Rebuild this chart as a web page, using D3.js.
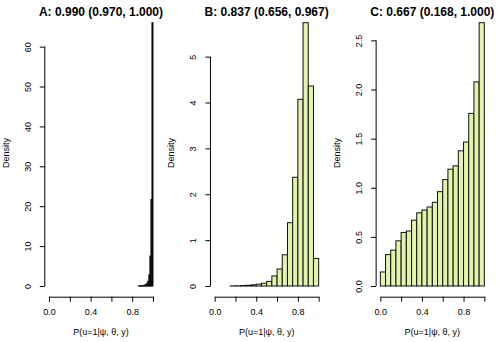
<!DOCTYPE html>
<html>
<head>
  <meta charset="utf-8">
  <script src="https://d3js.org/d3.v7.min.js"></script>
  <style>
    body { margin: 0; background: #fff; }
    text { font-family: "Liberation Sans", Arial, Helvetica, sans-serif; fill: #000; }
  </style>
</head>
<body>
<div id="vis"></div>
<script>
// panel titles
var titles = ["A: 0.990 (0.970, 1.000)", "B: 0.837 (0.656, 0.967)", "C: 0.667 (0.168, 1.000)"];

// histogram bins: left edges, bin widths and densities
var startA = 0.86, widthA = 0.01;
var densA = [0.05, 0.05, 0.05, 0.05, 0.1, 0.15, 0.25, 0.4, 0.7, 1.2, 2.8, 7.5, 21.7, 66.0];

var startB = 0.15, widthB = 0.05;
var densB = [0.003, 0.005, 0.01, 0.015, 0.025, 0.04, 0.06, 0.1, 0.22, 0.37, 0.68, 1.38, 2.37, 4.07, 5.74, 4.36, 0.6];

var startC = 0.0, widthC = 0.05;
var densC = [0.143, 0.32, 0.365, 0.46, 0.545, 0.56, 0.67, 0.745, 0.773, 0.804, 0.852, 0.96,
             1.083, 1.189, 1.223, 1.376, 1.465, 1.757, 2.078, 2.68];

// axis ticks
var xTicks = [0, 0.2, 0.4, 0.6, 0.8, 1.0];
var xTickLabels = ["0.0", "", "0.4", "", "0.8", ""];
var yTicksA = [0, 10, 20, 30, 40, 50, 60];
var yTicksB = [0, 1, 2, 3, 4, 5];
var yTicksC = [0, 0.5, 1.0, 1.5, 2.0, 2.5];

var xLabel = "P(u=1|\u03c8, \u03b8, y)";
var yLabel = "Density";

var W = 497, H = 342;
var panelW = W / 3;

var panels = [
  {title: titles[0], start: startA, bw: widthA, dens: densA, yTicks: yTicksA, fmt: d3.format("d"), fill: "#000"},
  {title: titles[1], start: startB, bw: widthB, dens: densB, yTicks: yTicksB, fmt: d3.format("d"), fill: "#e2f4ac"},
  {title: titles[2], start: startC, bw: widthC, dens: densC, yTicks: yTicksC, fmt: d3.format(".1f"), fill: "#e2f4ac"}
];

var svg = d3.select("#vis").append("svg")
    .attr("width", W)
    .attr("height", H);

panels.forEach(function(p, i) {
  var left = i * panelW;
  var g = svg.append("g").attr("transform", "translate(" + left + ",0)");

  var x = d3.scaleLinear().domain([0, 1]).range([49, 153]);
  var yMax = d3.max(p.dens);
  var y = d3.scaleLinear().domain([0, yMax]).range([286, 22.7]);

  var plotL = x(0) - 4.2, plotR = x(1) + 4.2;

  // bars
  g.selectAll("rect.bar")
    .data(p.dens)
    .enter().append("rect")
      .attr("class", "bar")
      .attr("x", function(d, k) { return x(p.start + k * p.bw); })
      .attr("width", function(d, k) { return x(p.start + (k + 1) * p.bw) - x(p.start + k * p.bw); })
      .attr("y", function(d) { return y(d); })
      .attr("height", function(d) { return y(0) - y(d); })
      .style("fill", p.fill)
      .style("stroke", "#111")
      .style("stroke-width", 1);

  // x axis
  var xa = g.append("g")
      .attr("transform", "translate(0,296.7)")
      .call(d3.axisBottom(x).tickValues(xTicks).tickSize(5).tickSizeOuter(0)
        .tickFormat(function(d, k) { return xTickLabels[k]; }));
  xa.select(".domain").attr("stroke", "#000");
  xa.selectAll(".tick line").attr("stroke", "#000");
  xa.selectAll(".tick text").attr("y", 12).style("font-size", "9px")
    .style("font-family", "'Liberation Sans', Arial, sans-serif");

  // y axis
  var ya = g.append("g")
      .attr("transform", "translate(" + plotL + ",0)")
      .call(d3.axisLeft(y).tickValues(p.yTicks).tickSize(5).tickFormat(p.fmt));
  ya.select(".domain").remove();
  ya.append("line")
    .attr("x1", 0).attr("x2", 0)
    .attr("y1", y(p.yTicks[0])).attr("y2", y(p.yTicks[p.yTicks.length - 1]))
    .attr("stroke", "#000");
  ya.selectAll(".tick line").attr("stroke", "#000");
  ya.selectAll(".tick text")
    .attr("x", null).attr("dy", null)
    .attr("transform", "translate(-14,0) rotate(-90)")
    .attr("text-anchor", "middle")
    .style("font-size", "9px")
    .style("font-family", "'Liberation Sans', Arial, sans-serif");

  // titles
  g.append("text")
    .attr("x", (plotL + plotR) / 2)
    .attr("y", 15.5)
    .attr("text-anchor", "middle")
    .style("font-weight", "bold")
    .style("font-size", "12px")
    .text(p.title);

  g.append("text")
    .attr("x", (plotL + plotR) / 2)
    .attr("y", 335)
    .attr("text-anchor", "middle")
    .style("font-size", "9px")
    .text(xLabel);

  g.append("text")
    .attr("transform", "translate(8.5,153) rotate(-90)")
    .attr("text-anchor", "middle")
    .style("font-size", "9px")
    .text(yLabel);
});
</script>
</body>
</html>
